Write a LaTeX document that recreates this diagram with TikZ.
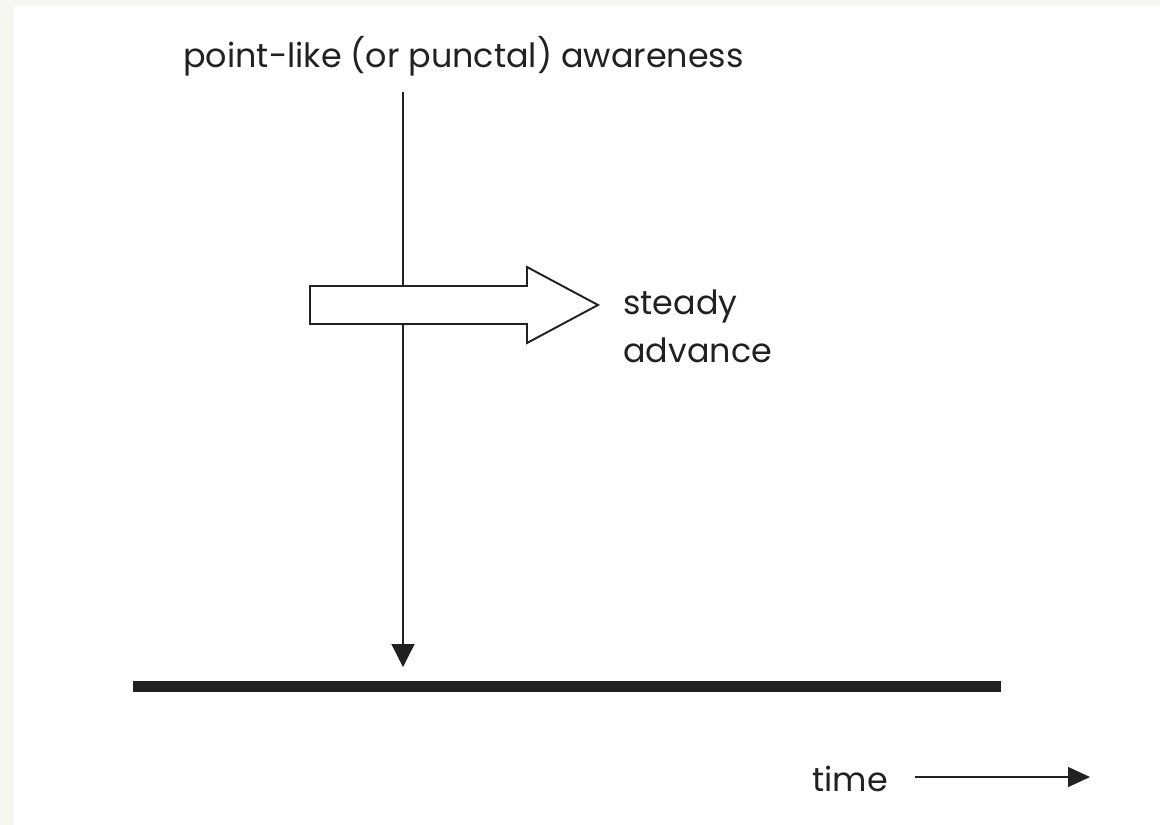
\documentclass[tikz,border=0pt]{standalone}
\usepackage{fontspec}
\setmainfont{Poppins}
\usetikzlibrary{arrows.meta,positioning}
\definecolor{edgegreen}{rgb}{0.96,0.97,0.94}
\definecolor{inkgray}{rgb}{0.13,0.13,0.13}
\tikzset{
  lbl/.style={
    inner sep=0pt,
    text=inkgray,
    font=\fontsize{19}{26}\selectfont
  },
  dropline/.style={
    -{Triangle[length=0.46cm,width=0.46cm]},
    line width=0.8pt,
    inkgray
  },
  timeline/.style={
    line width=0.22cm,
    inkgray
  },
  timearrow/.style={
    -{Triangle[length=0.44cm,width=0.4cm]},
    line width=0.8pt,
    inkgray
  },
  bigarrow/.style={
    draw=inkgray,
    fill=white,
    line width=1.1pt
  }
}
\begin{document}
\begin{tikzpicture}[x=0.02cm,y=-0.02cm]
\fill[edgegreen] (0,0) rectangle (1160,825);
\fill[white] (14,6) rectangle (1160,825);
\node[lbl,anchor=base west] (aware) at (183,67) {point-like (or punctal) awareness};
\coordinate (top) at (403,92);
\coordinate (hit) at (403,667);
\draw[dropline] (top) -- (hit);
\coordinate (t0) at (133,686);
\coordinate (t1) at (1001,686);
\draw[timeline] (t0) -- (t1);
% steady advance arrow
\coordinate (tip) at (598,305);
\draw[bigarrow] (310,286) -- (527,286) -- (527,267) -- (tip) -- (527,343)
  -- (527,324) -- (310,324) -- cycle;
\node[lbl,align=left,anchor=base west,font=\fontsize{19}{27}\selectfont] (adv) at (623,362) {steady\\advance};
\node[lbl,anchor=base west] (time) at (812,791) {time};
\coordinate (ts) at (915,777);
\coordinate (te) at (1090,777);
\draw[timearrow] (ts) -- (te);
\end{tikzpicture}
\end{document}
